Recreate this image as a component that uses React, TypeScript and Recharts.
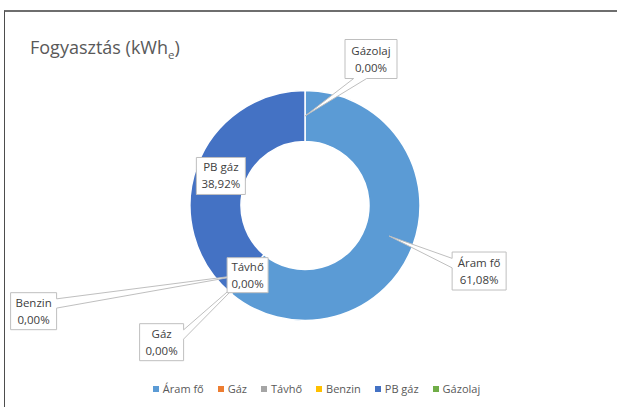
import { PieChart, Pie, Cell, Legend } from 'recharts'

const categories = ['Áram fő', 'Gáz', 'Távhő', 'Benzin', 'PB gáz', 'Gázolaj']
const shares = [61.08, 0, 0, 0, 38.92, 0]
const colors = ['#5B9BD5', '#ED7D31', '#A5A5A5', '#FFC000', '#4472C4', '#70AD47']

const data = categories.map((name, i) => ({ name, value: shares[i] }))
const total = shares.reduce((a, b) => a + b, 0)

// where each Excel callout box sits relative to the slice anchor point
const callouts: Record<string, { dx: number; dy: number; w: number; h: number }> = {
  'Áram fő': { dx: 90, dy: 35, w: 54, h: 38 },
  'Gáz': { dx: -86, dy: 68, w: 44, h: 37 },
  'Távhő': { dx: 0, dy: 1, w: 41, h: 35 },
  'Benzin': { dx: -214, dy: 37, w: 46, h: 37 },
  'PB gáz': { dx: 0, dy: 1, w: 49, h: 37 },
  'Gázolaj': { dx: 66, dy: -57, w: 52, h: 39 },
}

const FONT = '"Open Sans", sans-serif'
const RAD = Math.PI / 180

function fmtPct(v: number) {
  return ((v / total) * 100).toFixed(2).replace('.', ',') + '%'
}

function calloutPath(x0: number, y0: number, w: number, h: number, px: number, py: number) {
  const dx = px - (x0 + w / 2)
  const dy = py - (y0 + h / 2)
  const x1 = x0 + w
  const y1 = y0 + h
  const dq = (dx * h) / w
  if (Math.abs(dy) < Math.abs(dq)) {
    const ya = y0 + (h * (dy > 0 ? 7 : 2)) / 12
    const yb = y0 + (h * (dy > 0 ? 10 : 5)) / 12
    if (dx < 0) {
      return `M${x0},${y0} L${x1},${y0} L${x1},${y1} L${x0},${y1} L${x0},${yb} L${px},${py} L${x0},${ya} Z`
    }
    return `M${x0},${y0} L${x1},${y0} L${x1},${ya} L${px},${py} L${x1},${yb} L${x1},${y1} L${x0},${y1} Z`
  }
  const xa = x0 + (w * (dx > 0 ? 7 : 2)) / 12
  const xb = x0 + (w * (dx > 0 ? 10 : 5)) / 12
  if (dy < 0) {
    return `M${x0},${y0} L${xa},${y0} L${px},${py} L${xb},${y0} L${x1},${y0} L${x1},${y1} L${x0},${y1} Z`
  }
  return `M${x0},${y0} L${x1},${y0} L${x1},${y1} L${xb},${y1} L${px},${py} L${xa},${y1} L${x0},${y1} Z`
}

function renderLabel(props: any, layer: 'wedge' | 'front') {
  const { cx, cy, midAngle, innerRadius, outerRadius, index } = props
  const name = categories[index]
  const c = callouts[name]
  const r = (innerRadius + outerRadius) / 2
  const px = cx + r * Math.cos(-midAngle * RAD)
  const py = cy + r * Math.sin(-midAngle * RAD)
  const bx = px + c.dx - c.w / 2
  const by = py + c.dy - c.h / 2
  const inside = px >= bx && px <= bx + c.w && py >= by && py <= by + c.h
  if ((layer === 'front') !== inside) return <g key={`l-${layer}-${index}`} />
  const d = inside
    ? `M${bx},${by} h${c.w} v${c.h} h${-c.w} Z`
    : calloutPath(bx, by, c.w, c.h, px, py)
  const tx = bx + c.w / 2
  return (
    <g key={`l-${layer}-${index}`}>
      <path d={d} fill="#fff" stroke="#BFBFBF" strokeWidth={1} />
      <text x={tx} y={by + c.h / 2 - 4.5} textAnchor="middle" fontFamily={FONT} fontSize={11.5} fill="#404040">
        {name}
      </text>
      <text x={tx} y={by + c.h / 2 + 12.5} textAnchor="middle" fontFamily={FONT} fontSize={11.5} fill="#404040">
        {fmtPct(shares[index])}
      </text>
    </g>
  )
}

function LegendContent() {
  return (
    <div style={{ display: 'flex', justifyContent: 'center', fontFamily: FONT, fontSize: 11, color: '#595959' }}>
      {categories.map((name, i) => (
        <div key={name} style={{ display: 'flex', alignItems: 'center', marginRight: i < categories.length - 1 ? 14 : 0 }}>
          <span style={{ width: 6, height: 6, background: colors[i], marginRight: 4, display: 'inline-block' }} />
          <span>{name}</span>
        </div>
      ))}
    </div>
  )
}

export default function App() {
  return (
    <div style={{ position: 'absolute', left: 0, top: 0, width: 617, height: 407, overflow: 'hidden', background: '#fff' }}>
      <div
        style={{
          position: 'absolute',
          left: 4,
          top: 10,
          width: 700,
          height: 500,
          borderTop: '2px solid #6E6E6E',
          borderLeft: '1.5px solid #4D4D4D',
        }}
      />
      <div
        style={{
          position: 'absolute',
          left: 30,
          top: 35,
          fontFamily: FONT,
          fontSize: 18,
          color: '#595959',
          whiteSpace: 'nowrap',
        }}
      >
        Fogyasztás (kWh<sub style={{ fontSize: 11.5 }}>e</sub>)
      </div>
      <div style={{ position: 'absolute', left: 0, top: 0 }}>
        <PieChart width={617} height={407} margin={{ top: 0, right: 0, bottom: 0, left: 0 }}>
          <Pie
            data={data}
            dataKey="value"
            nameKey="name"
            cx={305}
            cy={205.5}
            innerRadius={64}
            outerRadius={115}
            startAngle={90}
            endAngle={-270}
            stroke="#fff"
            strokeWidth={1.5}
            isAnimationActive={false}
            labelLine={false}
            label={(p: any) => renderLabel(p, 'wedge')}
          >
            {data.map((d, i) => (
              <Cell key={d.name} fill={colors[i]} />
            ))}
          </Pie>
          <Pie
            data={data}
            dataKey="value"
            nameKey="name"
            cx={305}
            cy={205.5}
            innerRadius={64}
            outerRadius={115}
            startAngle={90}
            endAngle={-270}
            fill="none"
            stroke="none"
            legendType="none"
            isAnimationActive={false}
            labelLine={false}
            label={(p: any) => renderLabel(p, 'front')}
          />
          <Legend
            verticalAlign="bottom"
            content={() => <LegendContent />}
            wrapperStyle={{ position: 'absolute', left: 0, top: 381, width: 633 }}
          />
        </PieChart>
      </div>
    </div>
  )
}
